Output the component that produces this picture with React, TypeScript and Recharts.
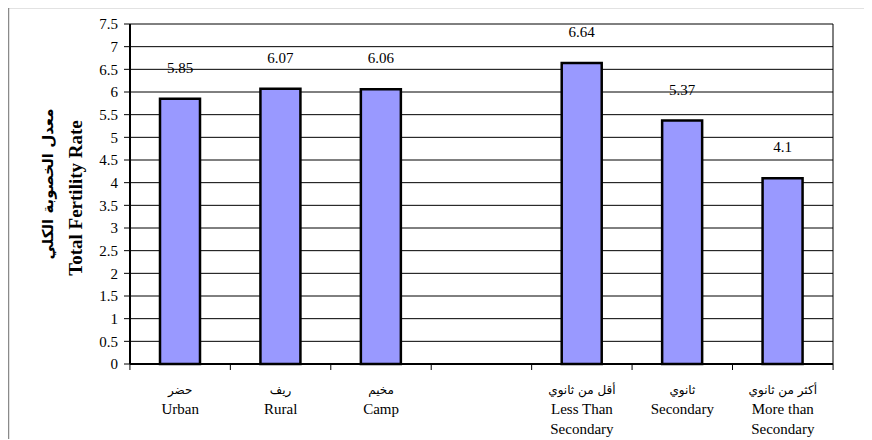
import React from 'react'
import { BarChart, Bar, XAxis, YAxis, CartesianGrid, LabelList, Label } from 'recharts'

const categories = ['urban', 'rural', 'camp', 'gap', 'lessSec', 'sec', 'moreSec']
const arabicLabels = ['حضر', 'ريف', 'مخيم', '', 'أقل من ثانوي', 'ثانوي', 'أكثر من ثانوي']
const englishLabels = ['Urban', 'Rural', 'Camp', '', 'Less Than\nSecondary', 'Secondary', 'More than\nSecondary']
const fertilityValues: (number | null)[] = [5.85, 6.07, 6.06, null, 6.64, 5.37, 4.1]
const yTicks = [0, 0.5, 1, 1.5, 2, 2.5, 3, 3.5, 4, 4.5, 5, 5.5, 6, 6.5, 7, 7.5]

const FONT = '"Liberation Serif", "Times New Roman", serif'
const W = 864
const H = 432
const LEFT = 121
const RIGHT = 38
const PLOT_W = W - 1 - LEFT - RIGHT

const data = categories.map((c, i) => ({
  key: c,
  idx: i,
  value: fertilityValues[i],
}))

function CategoryTick({ x, y, payload, index }: any) {
  const i = payload?.index ?? index
  const bw = PLOT_W / categories.length
  const lines = englishLabels[i] ? englishLabels[i].split('\n') : []
  return (
    <g>
      <line x1={x - bw / 2} x2={x - bw / 2} y1={y} y2={y + 6} stroke="#000" strokeWidth={1} />
      {i === categories.length - 1 && (
        <line x1={x + bw / 2} x2={x + bw / 2} y1={y} y2={y + 6} stroke="#000" strokeWidth={1} />
      )}
      <text x={x} y={y + 30} textAnchor="middle" fontSize={12} fontFamily='"DejaVu Sans", sans-serif' fill="#000">
        {arabicLabels[i]}
      </text>
      {lines.map((ln, k) => (
        <text key={k} x={x} y={y + 50 + k * 20} textAnchor="middle" fontSize={15} fontFamily={FONT} fill="#000">
          {ln}
        </text>
      ))}
    </g>
  )
}

function AxisTitle({ viewBox }: any) {
  const cy = viewBox.y + viewBox.height / 2
  return (
    <g>
      <text
        x={40}
        y={cy - 10}
        transform={`rotate(-90 40 ${cy - 10})`}
        textAnchor="middle"
        dominantBaseline="central"
        fontSize={15}
        fontWeight="bold"
        fontFamily='"DejaVu Sans", sans-serif'
        fill="#000"
      >
        معدل الخصوبة الكلي
      </text>
      <text
        x={67}
        y={cy + 4}
        transform={`rotate(-90 67 ${cy + 4})`}
        textAnchor="middle"
        dominantBaseline="central"
        fontSize={19}
        fontWeight="bold"
        fontFamily={FONT}
        fill="#000"
      >
        Total Fertility Rate
      </text>
    </g>
  )
}

export default function App() {
  return (
    <div style={{ position: 'relative', width: W, height: H, marginTop: -1, background: '#fff' }}>
      <BarChart width={W - 1} height={H - 1} data={data} margin={{ top: 17, right: 0, left: 1, bottom: 0 }}>
        <CartesianGrid yAxisId="left" vertical={false} stroke="#000" strokeWidth={1} />
        <XAxis
          dataKey="idx"
          height={74}
          tickSize={0}
          tickMargin={0}
          interval={0}
          axisLine={{ stroke: '#000', strokeWidth: 2 }}
          tickLine={false}
          tick={(props: any) => <CategoryTick {...props} />}
        />
        <YAxis
          yAxisId="left"
          width={LEFT}
          domain={[0, 7.5]}
          ticks={yTicks}
          interval={0}
          tickSize={6}
          tickMargin={6}
          axisLine={{ stroke: '#000', strokeWidth: 2 }}
          tickLine={{ stroke: '#000' }}
          tick={{ fontSize: 15, fontFamily: FONT, fill: '#000' }}
        >
          <Label content={(p: any) => <AxisTitle {...p} />} />
        </YAxis>
        <YAxis
          yAxisId="right"
          orientation="right"
          width={RIGHT}
          domain={[0, 7.5]}
          tick={false}
          tickLine={false}
          axisLine={{ stroke: '#000', strokeWidth: 1 }}
        />
        <Bar
          yAxisId="left"
          dataKey="value"
          fill="#9999FF"
          stroke="#000"
          strokeWidth={2.5}
          barSize={40}
          isAnimationActive={false}
        >
          <LabelList dataKey="value" position="top" offset={26} fontSize={15} fontFamily={FONT} fill="#000" />
        </Bar>
      </BarChart>
      <svg
        width={W}
        height={H}
        style={{ position: 'absolute', left: 0, top: 0, pointerEvents: 'none' }}
      >
        <path d={`M0.5 ${H} V0.5 H${W}`} fill="none" stroke="#8a8a8a" strokeWidth={1.5} />
      </svg>
    </div>
  )
}
